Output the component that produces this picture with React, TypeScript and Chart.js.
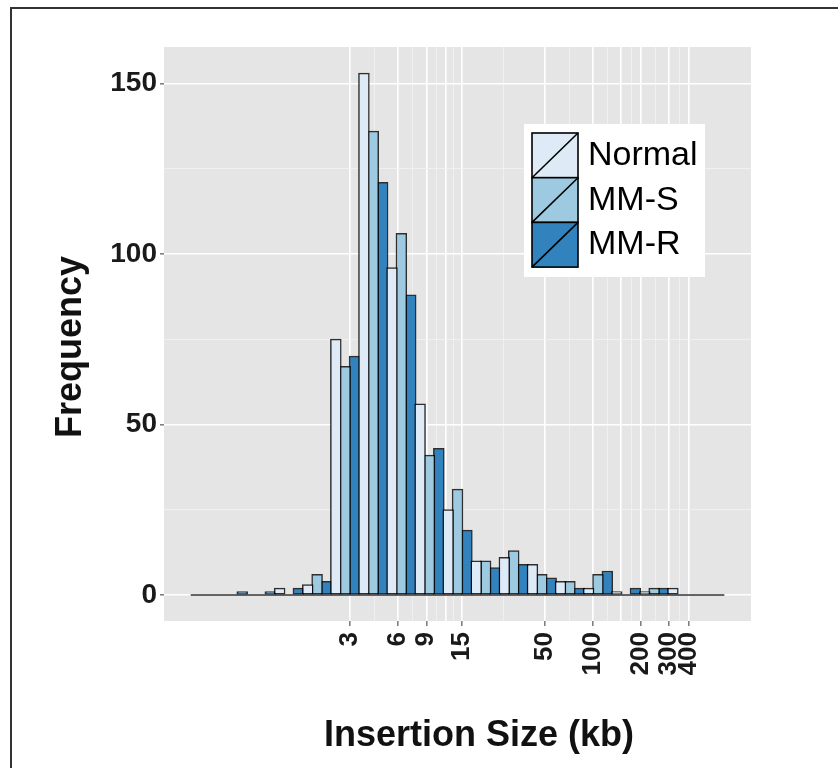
import React, { useEffect, useRef } from "react";
import { Chart, registerables } from "chart.js";

Chart.register(...registerables);

// Histogram bin edges (kb), log-spaced bins
const binEdgesKb = [
  0.3, 0.45, 0.675, 1.0125, 1.519, 2.278, 3.417, 5.126, 7.689, 11.53,
  17.3, 25.95, 38.93, 58.39, 87.58, 131.4, 197.1, 295.6, 443.4, 665.1,
];

// Counts per bin for each group
const normalCounts = [0, 0, 0, 2, 3, 75, 153, 96, 56, 25, 10, 11, 9, 4, 2, 1, 1, 2, 0];
const mmSCounts = [0, 0, 0, 0, 6, 67, 136, 106, 41, 31, 10, 13, 6, 4, 6, 0, 2, 0, 0];
const mmRCounts = [0, 1, 1, 2, 4, 70, 121, 88, 43, 19, 8, 9, 5, 2, 7, 2, 2, 0, 0];

const seriesNames = ["Normal", "MM-S", "MM-R"];
const seriesColors = ["#deebf7", "#9ecae1", "#3182bd"];

// x axis (kb, log scale)
const labeledBreaksKb = [3, 6, 9, 15, 50, 100, 200, 300, 400];
const gridBreaksKb = [3, 6, 9, 12, 15, 50, 100, 150, 200, 300, 400];
const xLimitsKb = [0.204, 977];

// y axis
const yBreaks = [0, 50, 100, 150];
const yLimits = [-7.65, 160.65];

const xTitle = "Insertion Size (kb)";
const yTitle = "Frequency";

const FONT = "'Liberation Sans', Arial, Helvetica, sans-serif";
const log10 = (v: number) => Math.log10(v);
const near = (a: number, b: number) => Math.abs(a - b) < 1e-6;

export default function App() {
  const canvasRef = useRef<HTMLCanvasElement | null>(null);

  useEffect(() => {
    const canvas = canvasRef.current;
    if (!canvas) return;

    const centers = binEdgesKb.slice(0, -1).map((e, i) => (log10(e) + log10(binEdgesKb[i + 1])) / 2);
    const allCounts = [normalCounts, mmSCounts, mmRCounts];

    const xMajor = gridBreaksKb.map(log10);
    const xMinor = xMajor.slice(0, -1).map((v, i) => (v + xMajor[i + 1]) / 2);
    const xLabeled = labeledBreaksKb.map(log10);
    const xTickVals = [...xMajor, ...xMinor].sort((a, b) => a - b);

    const yMinor = yBreaks.slice(0, -1).map((v, i) => (v + yBreaks[i + 1]) / 2);
    const yTickVals = [...yBreaks, ...yMinor].sort((a, b) => a - b);

    const isXMajor = (v: number) => xMajor.some((m) => near(m, v));
    const xLabelIdx = (v: number) => xLabeled.findIndex((m) => near(m, v));
    const isYMajor = (v: number) => yBreaks.some((m) => near(m, v));

    const panelPlugin = {
      id: "panel",
      beforeDraw(chart: any) {
        const { ctx, chartArea } = chart;
        ctx.save();
        ctx.fillStyle = "#ffffff";
        ctx.fillRect(0, 0, chart.width, chart.height);
        // figure frame
        ctx.fillStyle = "#333333";
        ctx.fillRect(10, 7, 2, chart.height);
        ctx.fillRect(10, 7, chart.width, 2);
        // panel background
        ctx.fillStyle = "#e5e5e5";
        ctx.fillRect(chartArea.left, chartArea.top, chartArea.right - chartArea.left, chartArea.bottom - chartArea.top);
        ctx.restore();
      },
      afterDraw(chart: any) {
        const { ctx } = chart;
        ctx.save();
        // axis titles
        ctx.fillStyle = "#111111";
        ctx.font = `bold 36px ${FONT}`;
        ctx.textAlign = "center";
        ctx.textBaseline = "alphabetic";
        ctx.fillText(xTitle, 479, 746);
        ctx.save();
        ctx.translate(81, 347);
        ctx.rotate(-Math.PI / 2);
        ctx.fillText(yTitle, 0, 0);
        ctx.restore();

        // legend
        ctx.fillStyle = "#ffffff";
        ctx.fillRect(524, 124, 181, 153);
        const kx = 532, kw = 46, kh = 44.7, ky0 = 133;
        const baselines = [165, 210, 254];
        seriesNames.forEach((name, i) => {
          const y = ky0 + i * kh;
          ctx.fillStyle = seriesColors[i];
          ctx.fillRect(kx, y, kw, kh);
          ctx.strokeStyle = "#000000";
          ctx.lineWidth = 1.6;
          ctx.strokeRect(kx, y, kw, kh);
          ctx.beginPath();
          ctx.moveTo(kx, y + kh);
          ctx.lineTo(kx + kw, y);
          ctx.stroke();
          ctx.fillStyle = "#000000";
          ctx.font = `34px ${FONT}`;
          ctx.textAlign = "left";
          ctx.textBaseline = "alphabetic";
          ctx.fillText(name, 588, baselines[i]);
        });
        ctx.restore();
      },
    };

    const barDatasets = seriesNames.map((name, s) => ({
      type: "bar" as const,
      label: name,
      data: centers.map((c, i) => ({ x: c, y: allCounts[s][i] })),
      backgroundColor: seriesColors[s],
      borderColor: "rgba(0,0,0,0.8)",
      borderWidth: 1.5,
      borderSkipped: false,
      barThickness: "flex",
      categoryPercentage: 1,
      barPercentage: 1.16,
      order: 1,
    }));

    const baseline = {
      type: "line" as const,
      label: "baseline",
      data: [
        { x: log10(binEdgesKb[0]), y: 0 },
        { x: log10(binEdgesKb[binEdgesKb.length - 1]), y: 0 },
      ],
      borderColor: "rgba(0,0,0,0.8)",
      borderWidth: 1.5,
      pointRadius: 0,
      fill: false,
      order: 0,
    };

    const chart = new Chart(canvas, {
      type: "bar",
      data: { datasets: [...barDatasets, baseline] as any },
      plugins: [panelPlugin],
      options: {
        responsive: false,
        animation: false,
        devicePixelRatio: 1,
        layout: { padding: { left: 0, top: 47, right: 87, bottom: 0 } },
        plugins: { legend: { display: false }, tooltip: { enabled: false } },
        scales: {
          x: {
            type: "linear",
            min: log10(xLimitsKb[0]),
            max: log10(xLimitsKb[1]),
            offset: false,
            afterBuildTicks: (scale: any) => {
              scale.ticks = xTickVals.map((v) => ({ value: v }));
            },
            afterFit: (scale: any) => {
              scale.height = 147;
            },
            border: { display: false },
            grid: {
              offset: false,
              drawTicks: true,
              tickLength: 5,
              tickWidth: 1.6,
              color: (ctx: any) => (ctx.tick && isXMajor(ctx.tick.value) ? "#ffffff" : "#f2f2f2"),
              lineWidth: (ctx: any) => (ctx.tick && isXMajor(ctx.tick.value) ? 1.6 : 0.8),
              tickColor: (ctx: any) => (ctx.tick && xLabelIdx(ctx.tick.value) >= 0 ? "#808080" : "rgba(0,0,0,0)"),
            },
            ticks: {
              autoSkip: false,
              minRotation: 90,
              maxRotation: 90,
              padding: 6,
              color: "#1a1a1a",
              font: { family: FONT, size: 26, weight: "bold" },
              callback: (value: any) => {
                const idx = xLabelIdx(Number(value));
                return idx >= 0 ? String(labeledBreaksKb[idx]) : "";
              },
            },
          },
          y: {
            type: "linear",
            min: yLimits[0],
            max: yLimits[1],
            afterBuildTicks: (scale: any) => {
              scale.ticks = yTickVals.map((v) => ({ value: v }));
            },
            afterFit: (scale: any) => {
              scale.width = 164;
            },
            border: { display: false },
            grid: {
              drawTicks: true,
              tickLength: 4,
              tickWidth: 1.6,
              color: (ctx: any) => (ctx.tick && isYMajor(ctx.tick.value) ? "#ffffff" : "#f2f2f2"),
              lineWidth: (ctx: any) => (ctx.tick && isYMajor(ctx.tick.value) ? 1.6 : 0.8),
              tickColor: (ctx: any) => (ctx.tick && isYMajor(ctx.tick.value) ? "#808080" : "rgba(0,0,0,0)"),
            },
            ticks: {
              autoSkip: false,
              padding: 3,
              color: "#1a1a1a",
              font: { family: FONT, size: 28, weight: "bold" },
              callback: (value: any) => (isYMajor(Number(value)) ? String(Math.round(Number(value))) : ""),
            },
          },
        },
      } as any,
    });

    return () => chart.destroy();
  }, []);

  return (
    <div style={{ position: "absolute", left: 0, top: 0, width: 838, height: 768 }}>
      <canvas ref={canvasRef} width={838} height={768} style={{ display: "block", width: 838, height: 768 }} />
    </div>
  );
}
